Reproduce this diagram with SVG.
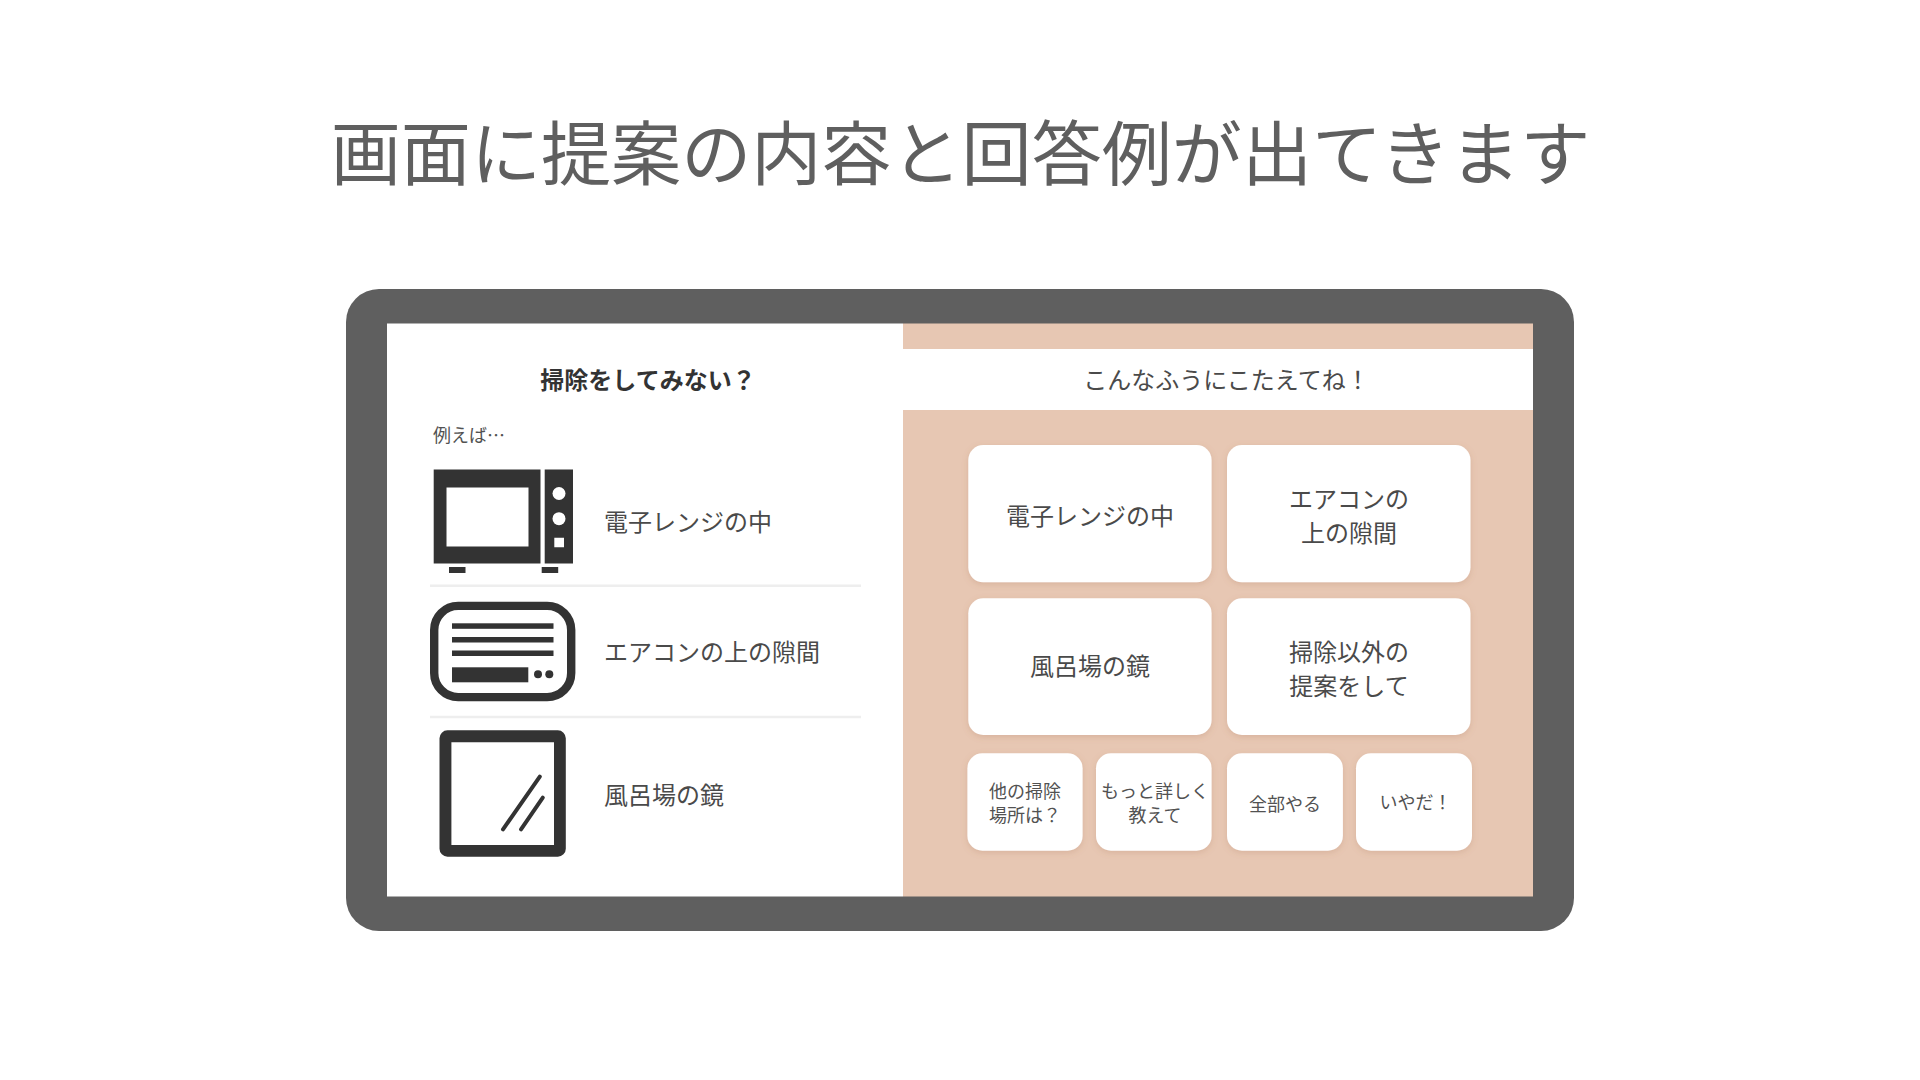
<svg xmlns="http://www.w3.org/2000/svg" width="1920" height="1080" viewBox="0 0 1920 1080">
<defs>
<filter id="sh" x="-20%" y="-20%" width="140%" height="140%"><feDropShadow dx="0" dy="2" stdDeviation="3" flood-color="#a06a4a" flood-opacity="0.22"/></filter>
</defs>
<style>
text{font-family:"Noto Sans CJK JP","Noto Sans",sans-serif;fill:#444}
.m{text-anchor:middle}
.l{font-size:24px;fill:#4a4a4a}
.s{font-size:18px;fill:#525252}
.i{fill:#333}
.card{fill:#fff;filter:url(#sh)}
.div{stroke:#eee;stroke-width:2.500}
</style>
<rect width="1920" height="1080" fill="#fff"/>
<text id="title" class="m" x="960.500" y="180" font-size="70.100" style="fill:#5f5f5f">画面に提案の内容と回答例が出てきます</text>
<g id="tablet">
<rect x="346" y="289" width="1228" height="642" rx="33" fill="#5f5f5f"/>
<rect x="387" y="323.500" width="516" height="573" fill="#fff"/>
<rect x="903" y="323.500" width="630" height="573" fill="#e7c7b3"/>
<rect x="903" y="349" width="630" height="61" fill="#fff"/>
</g>
<g id="left-panel">
<text class="m" x="648" y="389" font-size="24" font-weight="700" style="fill:#333">掃除をしてみない？</text>
<text x="433" y="442" class="s">例えば…</text>
<line class="div" x1="430" y1="585.700" x2="861" y2="585.700"/>
<line class="div" x1="430" y1="717" x2="861" y2="717"/>
</g>
<g id="item-microwave">
<path class="i" fill-rule="evenodd" d="M433.700 469.500H540.500V563.500H433.700ZM446.500 487.500V546.500H528.500V487.500Z"/>
<path class="i" fill-rule="evenodd" d="M544.700 469.500H573V563.500H544.700ZM554.300 537.700V547.300H564V537.700Z"/>
<circle cx="559" cy="493.500" r="6.500" fill="#fff"/>
<circle cx="559" cy="518.700" r="6.500" fill="#fff"/>
<rect class="i" x="449" y="567" width="16.500" height="6"/>
<rect class="i" x="541.700" y="567" width="16.500" height="6"/>
<text class="l" x="604" y="531">電子レンジの中</text>
</g>
<g id="item-aircon">
<rect x="434.200" y="605.900" width="137" height="91.200" rx="24" fill="none" stroke="#333" stroke-width="8.400"/>
<rect class="i" x="452" y="623.300" width="101.500" height="5.500"/>
<rect class="i" x="452" y="637" width="101.500" height="5.500"/>
<rect class="i" x="452" y="650.500" width="101.500" height="5.500"/>
<rect class="i" x="452" y="667.300" width="76.300" height="15"/>
<circle class="i" cx="538" cy="674.300" r="4"/>
<circle class="i" cx="549.300" cy="674.300" r="4"/>
<text class="l" x="604" y="661">エアコンの上の隙間</text>
</g>
<g id="item-mirror">
<path class="i" fill-rule="evenodd" d="M447.500 730.300H557.800A8 8 0 0 1 565.800 738.300V848.700A8 8 0 0 1 557.800 856.700H447.500A8 8 0 0 1 439.500 848.700V738.300A8 8 0 0 1 447.500 730.300ZM451.400 742.300V845H554V742.300Z"/>
<line x1="539.800" y1="776.700" x2="503" y2="829.300" stroke="#333" stroke-width="4" stroke-linecap="round"/>
<line x1="542.800" y1="797.700" x2="521" y2="829.300" stroke="#333" stroke-width="4" stroke-linecap="round"/>
<text class="l" x="604" y="803.500">風呂場の鏡</text>
</g>
<text id="right-header" class="m" x="1226.500" y="389" font-size="24" style="fill:#4a4a4a">こんなふうにこたえてね！</text>
<g id="card-1"><rect class="card" x="968.300" y="445" width="243.300" height="137.300" rx="15"/><text class="l m" x="1090" y="524.500">電子レンジの中</text></g>
<g id="card-2"><rect class="card" x="1227" y="445" width="243.500" height="137.300" rx="15"/><text class="l m" x="1349" y="508">エアコンの</text><text class="l m" x="1349" y="542">上の隙間</text></g>
<g id="card-3"><rect class="card" x="968.300" y="598.300" width="243.300" height="136.700" rx="15"/><text class="l m" x="1090" y="675">風呂場の鏡</text></g>
<g id="card-4"><rect class="card" x="1227" y="598.300" width="243.500" height="136.700" rx="15"/><text class="l m" x="1349" y="661">掃除以外の</text><text class="l m" x="1349" y="695">提案をして</text></g>
<g id="card-5"><rect class="card" x="967.400" y="753.300" width="115.200" height="97.400" rx="15"/><text class="s m" x="1025" y="797.500">他の掃除</text><text class="s m" x="1025" y="822">場所は？</text></g>
<g id="card-6"><rect class="card" x="1096" y="753.300" width="115.600" height="97.400" rx="15"/><text class="s m" x="1155" y="797.500">もっと詳しく</text><text class="s m" x="1155" y="822">教えて</text></g>
<g id="card-7"><rect class="card" x="1227" y="753.300" width="115.900" height="97.400" rx="15"/><text class="s m" x="1285" y="811">全部やる</text></g>
<g id="card-8"><rect class="card" x="1356" y="753.300" width="116" height="97.400" rx="15"/><text class="s m" x="1415.500" y="808.500">いやだ！</text></g>
<g id="connectors"/>
</svg>
